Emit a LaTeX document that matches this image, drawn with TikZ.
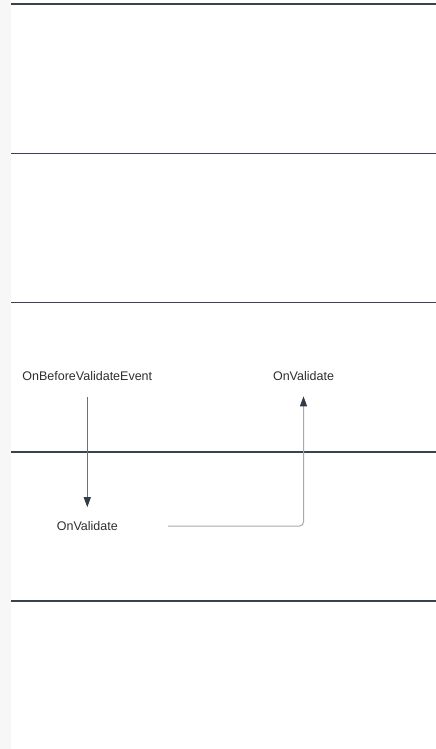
\documentclass[tikz,border=0pt]{standalone}
\usepackage{fontspec}
\setmainfont{Liberation Sans}
\usetikzlibrary{arrows.meta}
\definecolor{lanec}{HTML}{3B4150}
\definecolor{stripc}{HTML}{F7F7F7}
\definecolor{arrAc}{HTML}{6E6E74}
\definecolor{arrBc}{HTML}{A8A8B0}
\definecolor{headc}{HTML}{333A48}
\definecolor{txtc}{HTML}{2E2E2E}
\tikzset{
  laneline/.style={draw=lanec, line width=1.5pt},
  lbl/.style={inner sep=0pt, text=txtc, font=\fontsize{12.5}{15}\selectfont},
  arrA/.style={draw=arrAc, line width=1pt, -{Triangle[length=10pt,width=7pt,color=headc]}},
  arrB/.style={draw=arrBc, line width=1pt, rounded corners=4pt, -{Triangle[length=10pt,width=7pt,color=headc]}},
}
\begin{document}
\begin{tikzpicture}[x=1pt,y=-1pt]
\useasboundingbox (0,0) rectangle (436,749);
\fill[stripc] (0,0) rectangle (11,749);
\foreach \yy in {4.2,153.4,302.6,451.8,601} {
  \draw[laneline] (11,\yy) -- (436,\yy);
}
\node[lbl] (ob) at (87.3,376) {OnBeforeValidateEvent};
\node[lbl] (ov1) at (303.5,376) {OnValidate};
\node[lbl] (ov2) at (87.3,526) {OnValidate};
\draw[arrA, shorten <=16.5pt, shorten >=14pt] (ob) -- (ov2);
\draw[arrB, shorten >=15.5pt] ([xshift=80.5pt]ov2.center) -| (ov1);
\end{tikzpicture}
\end{document}
